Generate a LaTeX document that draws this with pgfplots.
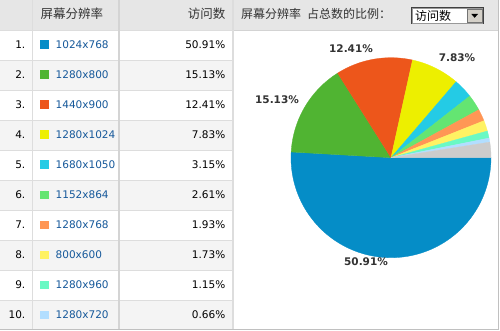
\documentclass[border=0pt]{standalone}
\usepackage{pgfplots}
\pgfplotsset{compat=1.18}
\usepackage{fontspec}
\setmainfont{DejaVu Sans}
\newfontfamily\cjk{Noto Sans CJK SC}
\definecolor{c1}{HTML}{058DC7}
\definecolor{c2}{HTML}{50B432}
\definecolor{c3}{HTML}{ED561B}
\definecolor{c4}{HTML}{EDEF00}
\definecolor{c5}{HTML}{24CBE5}
\definecolor{c6}{HTML}{64E572}
\definecolor{c7}{HTML}{FF9655}
\definecolor{c8}{HTML}{FFF263}
\definecolor{c9}{HTML}{6AF9C4}
\definecolor{c10}{HTML}{B2DEFF}
\definecolor{cother}{HTML}{CCCCCC}
\definecolor{hdr}{HTML}{E6E6E6}
\definecolor{alt}{HTML}{F4F4F4}
\definecolor{sep}{HTML}{DDDDDD}
\definecolor{sepdark}{HTML}{D4D4D4}
\definecolor{border}{HTML}{C0C0C0}
\definecolor{lnk}{HTML}{15589A}
\definecolor{lab}{HTML}{333333}
\definecolor{btn}{HTML}{D4D0C8}
\begin{document}
\begin{tikzpicture}
\useasboundingbox (0,0) rectangle (500pt,-331pt);
\begin{scope}[x=1pt,y=-1pt]
  \fill[white] (0,0) rectangle (500,331);
  \fill[hdr] (0,0) rectangle (498,30);
  \foreach \i in {2,4,...,10} \fill[alt] (0,30*\i) rectangle (233,30*\i+30);
  \foreach \i in {1,...,10} \draw[sep, line width=1pt] (0,30*\i+0.5) -- (233,30*\i+0.5);
  \draw[border!70, line width=1pt] (233,30.5) -- (498,30.5);
  % column separators
  \draw[sep, line width=1pt] (32.5,0) -- (32.5,330);
  \draw[sepdark, line width=2.2pt] (118.7,0) -- (118.7,330);
  \draw[sep, line width=1.2pt] (233,0) -- (233,330);
  % outer borders
  \draw[border, line width=1.4pt] (0,329.7) -- (499,329.7);
  \draw[border, line width=1.4pt] (498.5,0) -- (498.5,330.3);
  % headers
  \node[anchor=west, inner sep=0, text=lab] at (40.5,14) {\cjk\fontsize{12.5}{14}\selectfont 屏幕分辨率};
  \node[anchor=east, inner sep=0, text=lab] at (225.5,14) {\cjk\fontsize{12.5}{14}\selectfont 访问数};
  \node[anchor=west, inner sep=0, text=lab] at (241,14) {\cjk\fontsize{12}{14}\selectfont 屏幕分辨率\hspace{6pt}占总数的比例：};
  % dropdown
  \fill[white] (411,7) rectangle (484,24.5);
  \draw[black!75, line width=1pt] (411.5,7.5) rectangle (483.5,24);
  \draw[black!40, line width=0.6pt] (412.5,8.5) rectangle (482.5,23);
  \fill[btn] (467,9) rectangle (482,22.5);
  \draw[black!55, line width=0.6pt] (467,9) rectangle (482,22.5);
  \fill[black] (471.3,14) -- (478,14) -- (474.65,17.8) -- cycle;
  \node[anchor=west, inner sep=0] at (415,15.8) {\cjk\fontsize{12}{14}\selectfont 访问数};
  % table rows
  \foreach \n/\name/\col/\val in {1/1024x768/c1/50.91,2/1280x800/c2/15.13,3/1440x900/c3/12.41,4/1280x1024/c4/7.83,5/1680x1050/c5/3.15,6/1152x864/c6/2.61,7/1280x768/c7/1.93,8/800x600/c8/1.73,9/1280x960/c9/1.15,10/1280x720/c10/0.66}{
    \node[anchor=east, inner sep=0, font=\fontsize{10.5}{12}\selectfont] at (25.5,30*\n+15) {\n.};
    \fill[\col] (40,30*\n+10.5) rectangle (49,30*\n+19);
    \node[anchor=west, inner sep=0, text=lnk, font=\fontsize{10.5}{12}\selectfont] at (55.5,30*\n+15) {\name};
    \node[anchor=east, inner sep=0, font=\fontsize{10.5}{12}\selectfont] at (225.5,30*\n+15) {\val\%};
  }
\end{scope}
% pie angles (cumulative, clockwise from 3 o'clock)
\pgfmathsetmacro{\sA}{0}
\pgfmathsetmacro{\sB}{\sA+3.6*50.91}
\pgfmathsetmacro{\sC}{\sB+3.6*15.13}
\pgfmathsetmacro{\sD}{\sC+3.6*12.41}
\pgfmathsetmacro{\sE}{\sD+3.6*7.83}
\pgfmathsetmacro{\sF}{\sE+3.6*3.15}
\pgfmathsetmacro{\sG}{\sF+3.6*2.61}
\pgfmathsetmacro{\sH}{\sG+3.6*1.93}
\pgfmathsetmacro{\sI}{\sH+3.6*1.73}
\pgfmathsetmacro{\sJ}{\sI+3.6*1.15}
\pgfmathsetmacro{\sK}{\sJ+3.6*0.66}
\pgfmathsetmacro{\sL}{\sK+3.6*2.49}
\begin{axis}[at={(391pt,-157.7pt)}, anchor=center, hide axis, x=100pt, y=100pt,
  xmin=-1, xmax=1, ymin=-1, ymax=1, clip=false,
  every axis plot/.append style={line width=0.3pt, samples=90, variable=\t}]
  \addplot[fill=c1, draw=c1, domain=-\sB:-\sA] ({cos(\t)},{sin(\t)}) -- (axis cs:0,0) -- cycle;
  \addplot[fill=c2, draw=c2, domain=-\sC:-\sB] ({cos(\t)},{sin(\t)}) -- (axis cs:0,0) -- cycle;
  \addplot[fill=c3, draw=c3, domain=-\sD:-\sC] ({cos(\t)},{sin(\t)}) -- (axis cs:0,0) -- cycle;
  \addplot[fill=c4, draw=c4, domain=-\sE:-\sD] ({cos(\t)},{sin(\t)}) -- (axis cs:0,0) -- cycle;
  \addplot[fill=c5, draw=c5, domain=-\sF:-\sE] ({cos(\t)},{sin(\t)}) -- (axis cs:0,0) -- cycle;
  \addplot[fill=c6, draw=c6, domain=-\sG:-\sF] ({cos(\t)},{sin(\t)}) -- (axis cs:0,0) -- cycle;
  \addplot[fill=c7, draw=c7, domain=-\sH:-\sG] ({cos(\t)},{sin(\t)}) -- (axis cs:0,0) -- cycle;
  \addplot[fill=c8, draw=c8, domain=-\sI:-\sH] ({cos(\t)},{sin(\t)}) -- (axis cs:0,0) -- cycle;
  \addplot[fill=c9, draw=c9, domain=-\sJ:-\sI] ({cos(\t)},{sin(\t)}) -- (axis cs:0,0) -- cycle;
  \addplot[fill=c10, draw=c10, domain=-\sK:-\sJ] ({cos(\t)},{sin(\t)}) -- (axis cs:0,0) -- cycle;
  \addplot[fill=cother, draw=cother, domain=-\sL:-\sK] ({cos(\t)},{sin(\t)}) -- (axis cs:0,0) -- cycle;
  \node[text=lab, font=\bfseries\fontsize{10.5}{12}\selectfont] at (axis cs:-0.40,1.087) {12.41\%};
  \node[text=lab, font=\bfseries\fontsize{10.5}{12}\selectfont] at (axis cs:0.66,1.0) {7.83\%};
  \node[text=lab, font=\bfseries\fontsize{10.5}{12}\selectfont] at (axis cs:-1.14,0.584) {15.13\%};
  \node[text=lab, font=\bfseries\fontsize{10.5}{12}\selectfont] at (axis cs:-0.25,-1.043) {50.91\%};
\end{axis}
\end{tikzpicture}
\end{document}
